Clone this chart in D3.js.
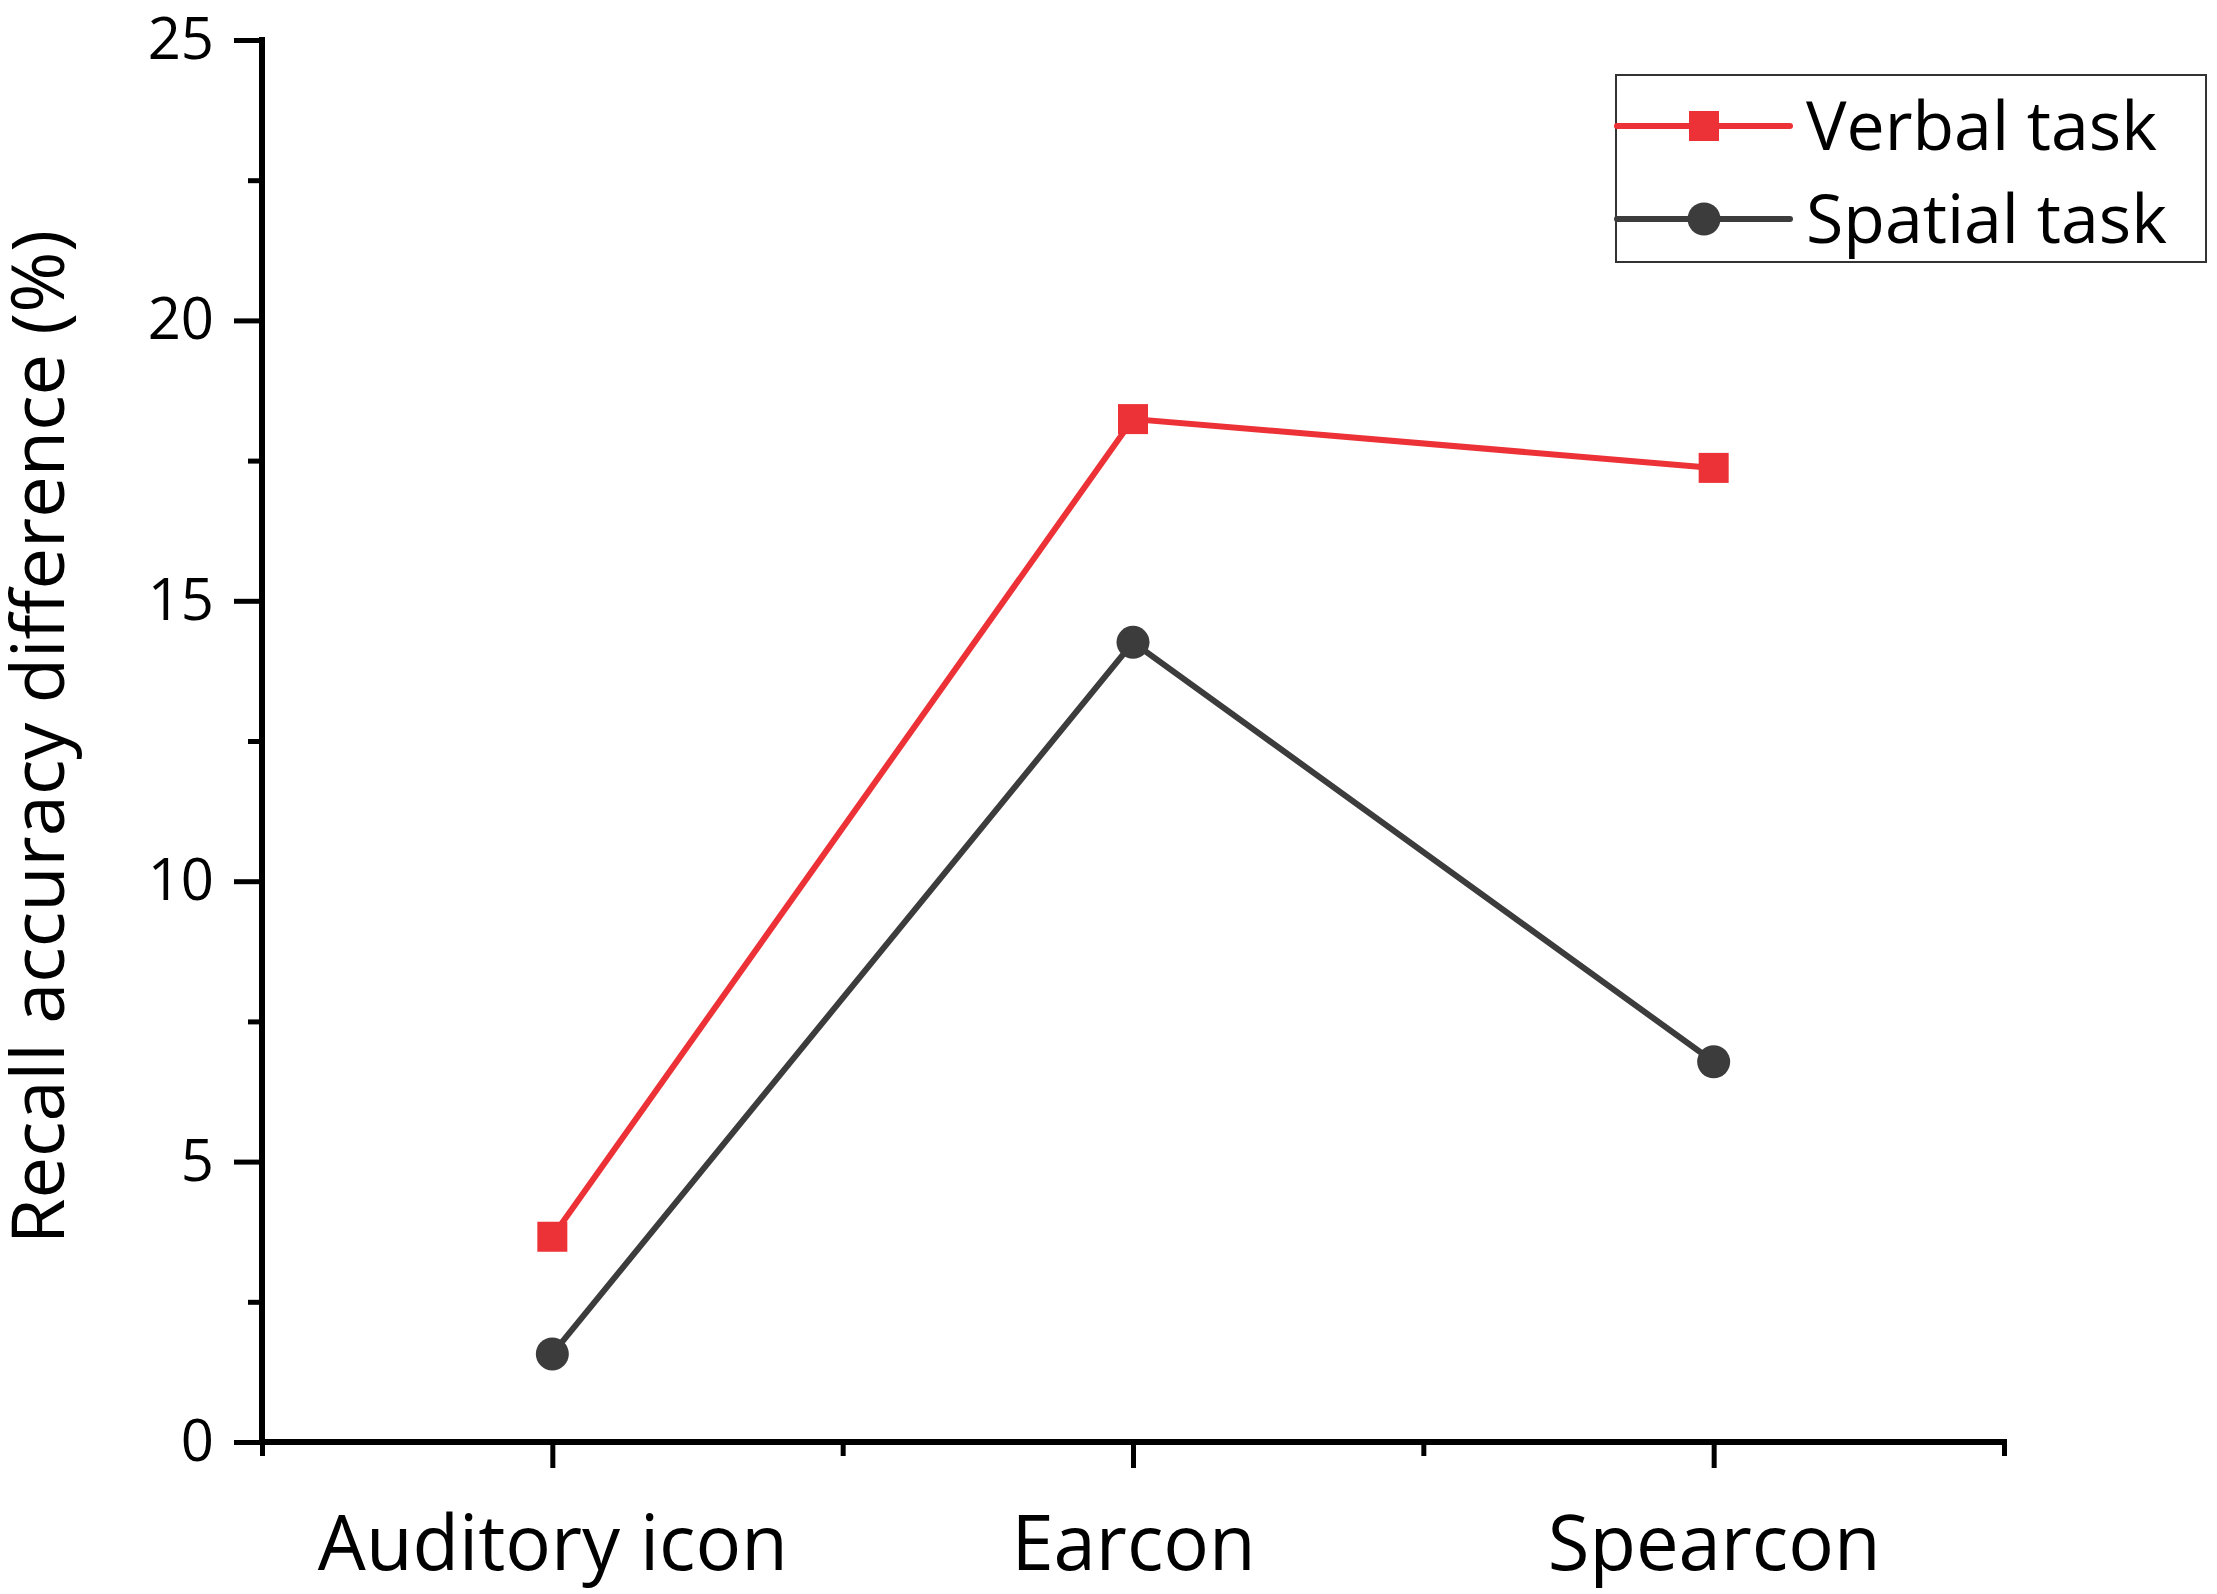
<!DOCTYPE html>
<html>
<head>
<meta charset="utf-8">
<script src="https://cdn.jsdelivr.net/npm/d3@7"></script>
<style>
  html, body { margin: 0; padding: 0; background: #ffffff; }
  svg { display: block; }
  text { font-family: "Open Sans", "Noto Sans", sans-serif; fill: #000; }
</style>
</head>
<body>
<svg id="chart" width="2217" height="1594"></svg>
<script>
const categories = ["Auditory icon", "Earcon", "Spearcon"];
const verbalTask = [3.66, 18.24, 17.37];
const spatialTask = [1.57, 14.26, 6.78];
const seriesNames = ["Verbal task", "Spatial task"];
const yTicks = [0, 5, 10, 15, 20, 25];
const yMinorTicks = [2.5, 7.5, 12.5, 17.5, 22.5];
const xMinorTicks = [0.5, 1.5, 2.5, 3.5];
const yTitle = "Recall accuracy difference (%)";

(function () {
const svg = d3.select("#chart");
const pLeft = 262, pRight = 2004, pTop = 40, pBottom = 1442;
const red = "#ec3237", dark = "#3c3c3c";

const x = d3.scaleLinear().domain([0.5, 3.5]).range([pLeft, pRight]);
const y = d3.scaleLinear().domain([0, 25]).range([pBottom, pTop]);

// Minor ticks y
svg.append("g").attr("transform", `translate(${pLeft},0)`)
  .call(d3.axisLeft(y).tickValues(yMinorTicks).tickSize(14).tickFormat(""))
  .call(g => g.select(".domain").remove())
  .call(g => g.selectAll("line").attr("stroke", "#000").attr("stroke-width", 5));

// Minor ticks x
svg.append("g").attr("transform", `translate(0,${pBottom})`)
  .call(d3.axisBottom(x).tickValues(xMinorTicks).tickSize(14).tickFormat(""))
  .call(g => g.select(".domain").remove())
  .call(g => g.selectAll("line").attr("stroke", "#000").attr("stroke-width", 5));

// Major y axis
const gy = svg.append("g").attr("transform", `translate(${pLeft},0)`)
  .call(d3.axisLeft(y).tickValues(yTicks).tickSize(28).tickSizeOuter(0).tickPadding(20).tickFormat(d3.format("d")));
gy.select(".domain").attr("stroke", "#000").attr("stroke-width", 6)
  .attr("d", `M0,${pBottom + 2}V${pTop - 3}`);
gy.selectAll(".tick line").attr("stroke", "#000").attr("stroke-width", 5);
gy.selectAll(".tick text").attr("font-size", 58).attr("fill", "#000")
  .style("font-family", '"Open Sans", "Noto Sans", sans-serif');

// Major x axis
const gx = svg.append("g").attr("transform", `translate(0,${pBottom})`)
  .call(d3.axisBottom(x).tickValues([1, 2, 3]).tickSize(26).tickSizeOuter(0)
    .tickFormat(d => categories[d - 1]));
gx.select(".domain").attr("stroke", "#000").attr("stroke-width", 6)
  .attr("d", `M${pLeft - 3},0H${pRight + 3}`);
gx.selectAll(".tick line").attr("stroke", "#000").attr("stroke-width", 5);
gx.selectAll(".tick text").attr("font-size", 76).attr("fill", "#000")
  .attr("y", 128).attr("dy", 0)
  .style("font-family", '"Open Sans", "Noto Sans", sans-serif');

// Y title
svg.append("text")
  .attr("transform", `translate(64,${(pTop + pBottom) / 2 - 4}) rotate(-90)`)
  .attr("text-anchor", "middle")
  .attr("font-size", 74)
  .text(yTitle);

const line = d3.line().x((d, i) => x(i + 1)).y(d => y(d));

// Spatial series
svg.append("path").datum(spatialTask)
  .attr("d", line).attr("fill", "none").attr("stroke", dark).attr("stroke-width", 6);
svg.selectAll("circle.sp").data(spatialTask).enter().append("circle")
  .attr("class", "sp")
  .attr("cx", (d, i) => x(i + 1)).attr("cy", d => y(d)).attr("r", 16.5)
  .attr("fill", dark);

// Verbal series
svg.append("path").datum(verbalTask)
  .attr("d", line).attr("fill", "none").attr("stroke", red).attr("stroke-width", 6);
svg.selectAll("rect.vb").data(verbalTask).enter().append("rect")
  .attr("class", "vb")
  .attr("x", (d, i) => x(i + 1) - 15).attr("y", d => y(d) - 15)
  .attr("width", 30).attr("height", 30)
  .attr("fill", red);

// Legend
const lg = svg.append("g");
lg.append("rect").attr("x", 1616).attr("y", 75).attr("width", 590).attr("height", 187)
  .attr("fill", "#fff").attr("stroke", "#333").attr("stroke-width", 2);
const legendItems = [
  { name: seriesNames[0], color: red, shape: "square", y: 126 },
  { name: seriesNames[1], color: dark, shape: "circle", y: 219 }
];
legendItems.forEach(it => {
  lg.append("line").attr("x1", 1617).attr("x2", 1790).attr("y1", it.y).attr("y2", it.y)
    .attr("stroke", it.color).attr("stroke-width", 6).attr("stroke-linecap", "round");
  if (it.shape === "square") {
    lg.append("rect").attr("x", 1704 - 15).attr("y", it.y - 15).attr("width", 30).attr("height", 30)
      .attr("fill", it.color);
  } else {
    lg.append("circle").attr("cx", 1704).attr("cy", it.y).attr("r", 16.5).attr("fill", it.color);
  }
  lg.append("text").attr("x", 1806).attr("y", it.y + 24).attr("font-size", 68).text(it.name);
});
})();
</script>
</body>
</html>
